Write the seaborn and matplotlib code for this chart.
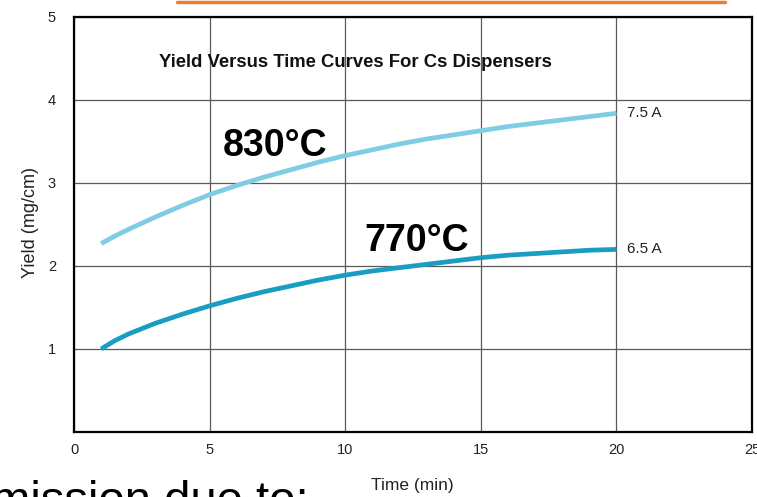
import numpy as np
import pandas as pd
import matplotlib
matplotlib.use("Agg")
import matplotlib.pyplot as plt
import seaborn as sns
from matplotlib.lines import Line2D

# ---- data ----
time_min = [1, 1.5, 2, 3, 4, 5, 6, 7, 8, 9, 10,
            11, 12, 13, 14, 15, 16, 17, 18, 19, 20]
yield_830 = [2.27, 2.36, 2.44, 2.59, 2.73, 2.86, 2.97, 3.07, 3.16, 3.25, 3.33,
             3.40, 3.47, 3.53, 3.58, 3.63, 3.68, 3.72, 3.76, 3.80, 3.84]
yield_770 = [1.00, 1.10, 1.18, 1.31, 1.42, 1.52, 1.61, 1.69, 1.76, 1.83, 1.89,
             1.94, 1.98, 2.02, 2.06, 2.10, 2.13, 2.15, 2.17, 2.19, 2.20]
series_names = ["830°C", "770°C"]
current_labels = ["7.5 A", "6.5 A"]
x_ticks = [0, 5, 10, 15, 20, 25]
y_ticks = [1, 2, 3, 4, 5]
title = "Yield Versus Time Curves For Cs Dispensers"

df = pd.concat([
    pd.DataFrame({"Time": time_min, "Yield": yield_830, "Series": series_names[0]}),
    pd.DataFrame({"Time": time_min, "Yield": yield_770, "Series": series_names[1]}),
])

sns.set_theme(style="white")
plt.rcParams["font.family"] = ["Liberation Sans", "DejaVu Sans"]

fig = plt.figure(figsize=(7.57, 4.97), dpi=100)
ax = fig.add_axes([0.0978, 0.1308, 0.8956, 0.835])

palette = {series_names[0]: "#7fcde2", series_names[1]: "#1a9dc2"}
sns.lineplot(data=df, x="Time", y="Yield", hue="Series", palette=palette,
             linewidth=3.4, legend=False, ax=ax, zorder=3)
for ln in ax.get_lines():
    ln.set_solid_joinstyle("round")
    ln.set_solid_capstyle("butt")

ax.set_xlim(0, 25)
ax.set_ylim(0, 5)
ax.set_xticks(x_ticks)
ax.set_yticks(y_ticks)
ax.set_xticklabels([str(t) for t in x_ticks], fontsize=10.5, color="#222222")
ax.set_yticklabels([str(t) for t in y_ticks], fontsize=10.5, color="#222222")
ax.tick_params(axis="x", length=0, pad=8)
ax.tick_params(axis="y", length=0, pad=13)
ax.grid(True, color="#5a5a5a", linewidth=0.9)
ax.set_axisbelow(True)
for s in ax.spines.values():
    s.set_color("black")
    s.set_linewidth(1.6)
    s.set_visible(True)

ax.set_xlabel("")
ax.set_ylabel("")
fig.text(0.545, 0.024, "Time (min)", fontsize=12.5, color="#222222", ha="center", va="center")
fig.text(0.040, 0.553, "Yield (mg/cm)", fontsize=13, color="#222222", ha="center",
         va="center", rotation=90)

ax.text(10.36, 4.45, title, fontsize=13.3, fontweight="bold", color="#111111",
        ha="center", va="center", zorder=4)

ax.text(7.41, 3.45, series_names[0], fontsize=27, fontweight="bold", color="black",
        ha="center", va="center", zorder=5)
ax.text(12.65, 2.30, series_names[1], fontsize=27, fontweight="bold", color="black",
        ha="center", va="center", zorder=5)

ax.text(20.4, 3.84, current_labels[0], fontsize=11, color="#222222", ha="left", va="center")
ax.text(20.4, 2.21, current_labels[1], fontsize=11, color="#222222", ha="left", va="center")

# slide fragments around the chart
fig.text(-0.012, -0.055, "mission due to:", fontsize=34, color="black", ha="left", va="bottom")
fig.add_artist(Line2D([177 / 757, 725 / 757], [1 - 1.5 / 497, 1 - 1.5 / 497],
                      color="#ed7d31", linewidth=2.5, transform=fig.transFigure))

fig.savefig("out.png", dpi=100)
